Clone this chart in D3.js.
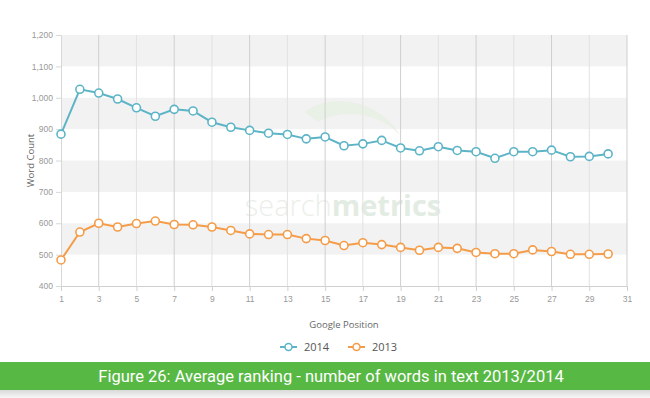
<!DOCTYPE html>
<html>
<head>
<meta charset="utf-8">
<script src="https://cdn.jsdelivr.net/npm/d3@7"></script>
<style>
  body { margin: 0; background: #fff; }
  svg { display: block; font-family: 'Open Sans', sans-serif; }
</style>
</head>
<body>
<div id="chart-area"></div>
<script>
// average word count per google position
let positions = d3.range(1, 31);
let words2014 = [884, 1027, 1015, 996, 968, 941, 963, 958, 922, 906, 896, 887, 883, 869, 875, 847,
  853, 864, 840, 831, 844, 832, 828, 807, 828, 828, 833, 812, 813, 821];
let words2013 = [483, 572, 600, 588, 599, 607, 596, 595, 588, 577, 566, 564, 564, 551, 545, 529,
  538, 532, 523, 514, 523, 520, 507, 503, 503, 515, 510, 501, 501, 502];
let xTicks = d3.range(1, 32, 2);
let yTicks = d3.range(400, 1201, 100);
let seriesNames = ['2014', '2013'];
let colors = ['#5db4c7', '#f59c48'];

let width = 650;
let height = 398;
let padding = { left: 61, right: 23, top: 35, bottom: 112 };

let chart = d3.select('#chart-area').append('svg').attr('width', width).attr('height', height);

let x = d3.scaleLinear().domain([1, 31]).range([padding.left, width - padding.right]);
let y = d3.scaleLinear().domain([400, 1200]).range([height - padding.bottom, padding.top]);

//alternating bands
chart.append('g')
  .selectAll('rect')
  .data(yTicks.slice(0, -1).filter((d) => (d / 100) % 2 == 1))
  .enter()
  .append('rect')
  .attr('x', x(1))
  .attr('width', x(31) - x(1))
  .attr('y', (d) => y(d + 100))
  .attr('height', (d) => y(d) - y(d + 100))
  .attr('fill', '#f2f2f2');

//watermark
let wm = chart.append('text')
  .attr('x', 343)
  .attr('y', 216)
  .attr('text-anchor', 'middle')
  .style('font-size', '29px')
  .style('font-family', "'Open Sans', sans-serif");
wm.append('tspan').text('search').attr('fill', '#ebefea').style('font-weight', 300);
wm.append('tspan').text('metrics').attr('fill', '#e3ece3').style('font-weight', 700);
chart.append('path')
  .attr('d', 'M305,112 C330,92 380,100 400,135 C380,112 340,108 318,122 Z')
  .attr('fill', '#e6f0e3')
  .attr('opacity', 0.8);

//vertical grid
chart.append('g')
  .selectAll('line')
  .data(xTicks.slice(1))
  .enter()
  .append('line')
  .attr('x1', (d) => x(d))
  .attr('x2', (d) => x(d))
  .attr('y1', y(1200))
  .attr('y2', y(400))
  .attr('stroke', (d, i) => (i % 2 == 0 ? '#cfcfcf' : '#e2e2e2'))
  .attr('stroke-width', 1);

//x axis
let xAxis = chart.append('g')
  .attr('transform', `translate(0, ${y(400)})`)
  .call(d3.axisBottom(x).tickValues(xTicks).tickSize(5).tickPadding(5).tickFormat(d3.format('d')));
xAxis.select('.domain').attr('stroke', '#d0d0d0');
xAxis.selectAll('.tick line').attr('stroke', '#d0d0d0');
xAxis.selectAll('text').attr('fill', '#999').style('font-size', '8.5px');

//y axis
let yAxis = chart.append('g')
  .attr('transform', `translate(${padding.left}, 0)`)
  .call(d3.axisLeft(y).tickValues(yTicks).tickSize(5).tickPadding(3).tickFormat(d3.format(',')));
yAxis.select('.domain').attr('stroke', '#d8d8d8');
yAxis.selectAll('.tick line').attr('stroke', '#d8d8d8');
yAxis.selectAll('text').attr('fill', '#999').style('font-size', '8.5px');

//axis titles
chart.append('text')
  .attr('x', (x(1) + x(31)) / 2)
  .attr('y', 328)
  .attr('text-anchor', 'middle')
  .attr('fill', '#666')
  .style('font-size', '9.5px')
  .text('Google Position');
chart.append('text')
  .attr('transform', `translate(34, ${(y(400) + y(1200)) / 2}) rotate(-90)`)
  .attr('text-anchor', 'middle')
  .attr('fill', '#666')
  .style('font-size', '9.5px')
  .text('Word Count');

//lines
let line = d3.line().x((d, i) => x(positions[i])).y((d) => y(d));
[words2014, words2013].forEach((series, k) => {
  let g = chart.append('g');
  g.append('path')
    .datum(series)
    .attr('d', line)
    .attr('fill', 'none')
    .attr('stroke', colors[k])
    .attr('stroke-width', 2);
  g.selectAll('circle')
    .data(series)
    .enter()
    .append('circle')
    .attr('cx', (d, i) => x(positions[i]))
    .attr('cy', (d) => y(d))
    .attr('r', 4)
    .attr('fill', '#fff')
    .attr('stroke', colors[k])
    .attr('stroke-width', 1.6);
});

//legend
let legendX = [280, 348];
seriesNames.forEach((name, k) => {
  let g = chart.append('g').attr('transform', `translate(${legendX[k]}, 347)`);
  g.append('line').attr('x1', 0).attr('x2', 17).attr('stroke', colors[k]).attr('stroke-width', 2);
  g.append('circle').attr('cx', 8.5).attr('r', 3.5).attr('fill', '#fff').attr('stroke', colors[k]).attr('stroke-width', 1.5);
  g.append('text')
    .attr('x', 24)
    .attr('y', 4)
    .attr('fill', '#555')
    .style('font-size', '11px')
    .text(name);
});

//caption banner
let grad = chart.append('defs').append('linearGradient').attr('id', 'shade').attr('x1', 0).attr('x2', 0).attr('y1', 0).attr('y2', 1);
grad.append('stop').attr('offset', 0).attr('stop-color', '#d9d9d9');
grad.append('stop').attr('offset', 1).attr('stop-color', '#f7f7f7');
chart.append('rect').attr('x', 0).attr('y', 390).attr('width', width).attr('height', 8).attr('fill', 'url(#shade)');
chart.append('rect').attr('x', 0).attr('y', 362).attr('width', width).attr('height', 28).attr('fill', '#58b844');
chart.append('text')
  .attr('x', 331)
  .attr('y', 382)
  .attr('text-anchor', 'middle')
  .attr('fill', '#fff')
  .style('font-family', 'Roboto, sans-serif')
  .style('font-size', '16.5px')
  .text('Figure 26: Average ranking - number of words in text 2013/2014');
</script>
</body>
</html>
